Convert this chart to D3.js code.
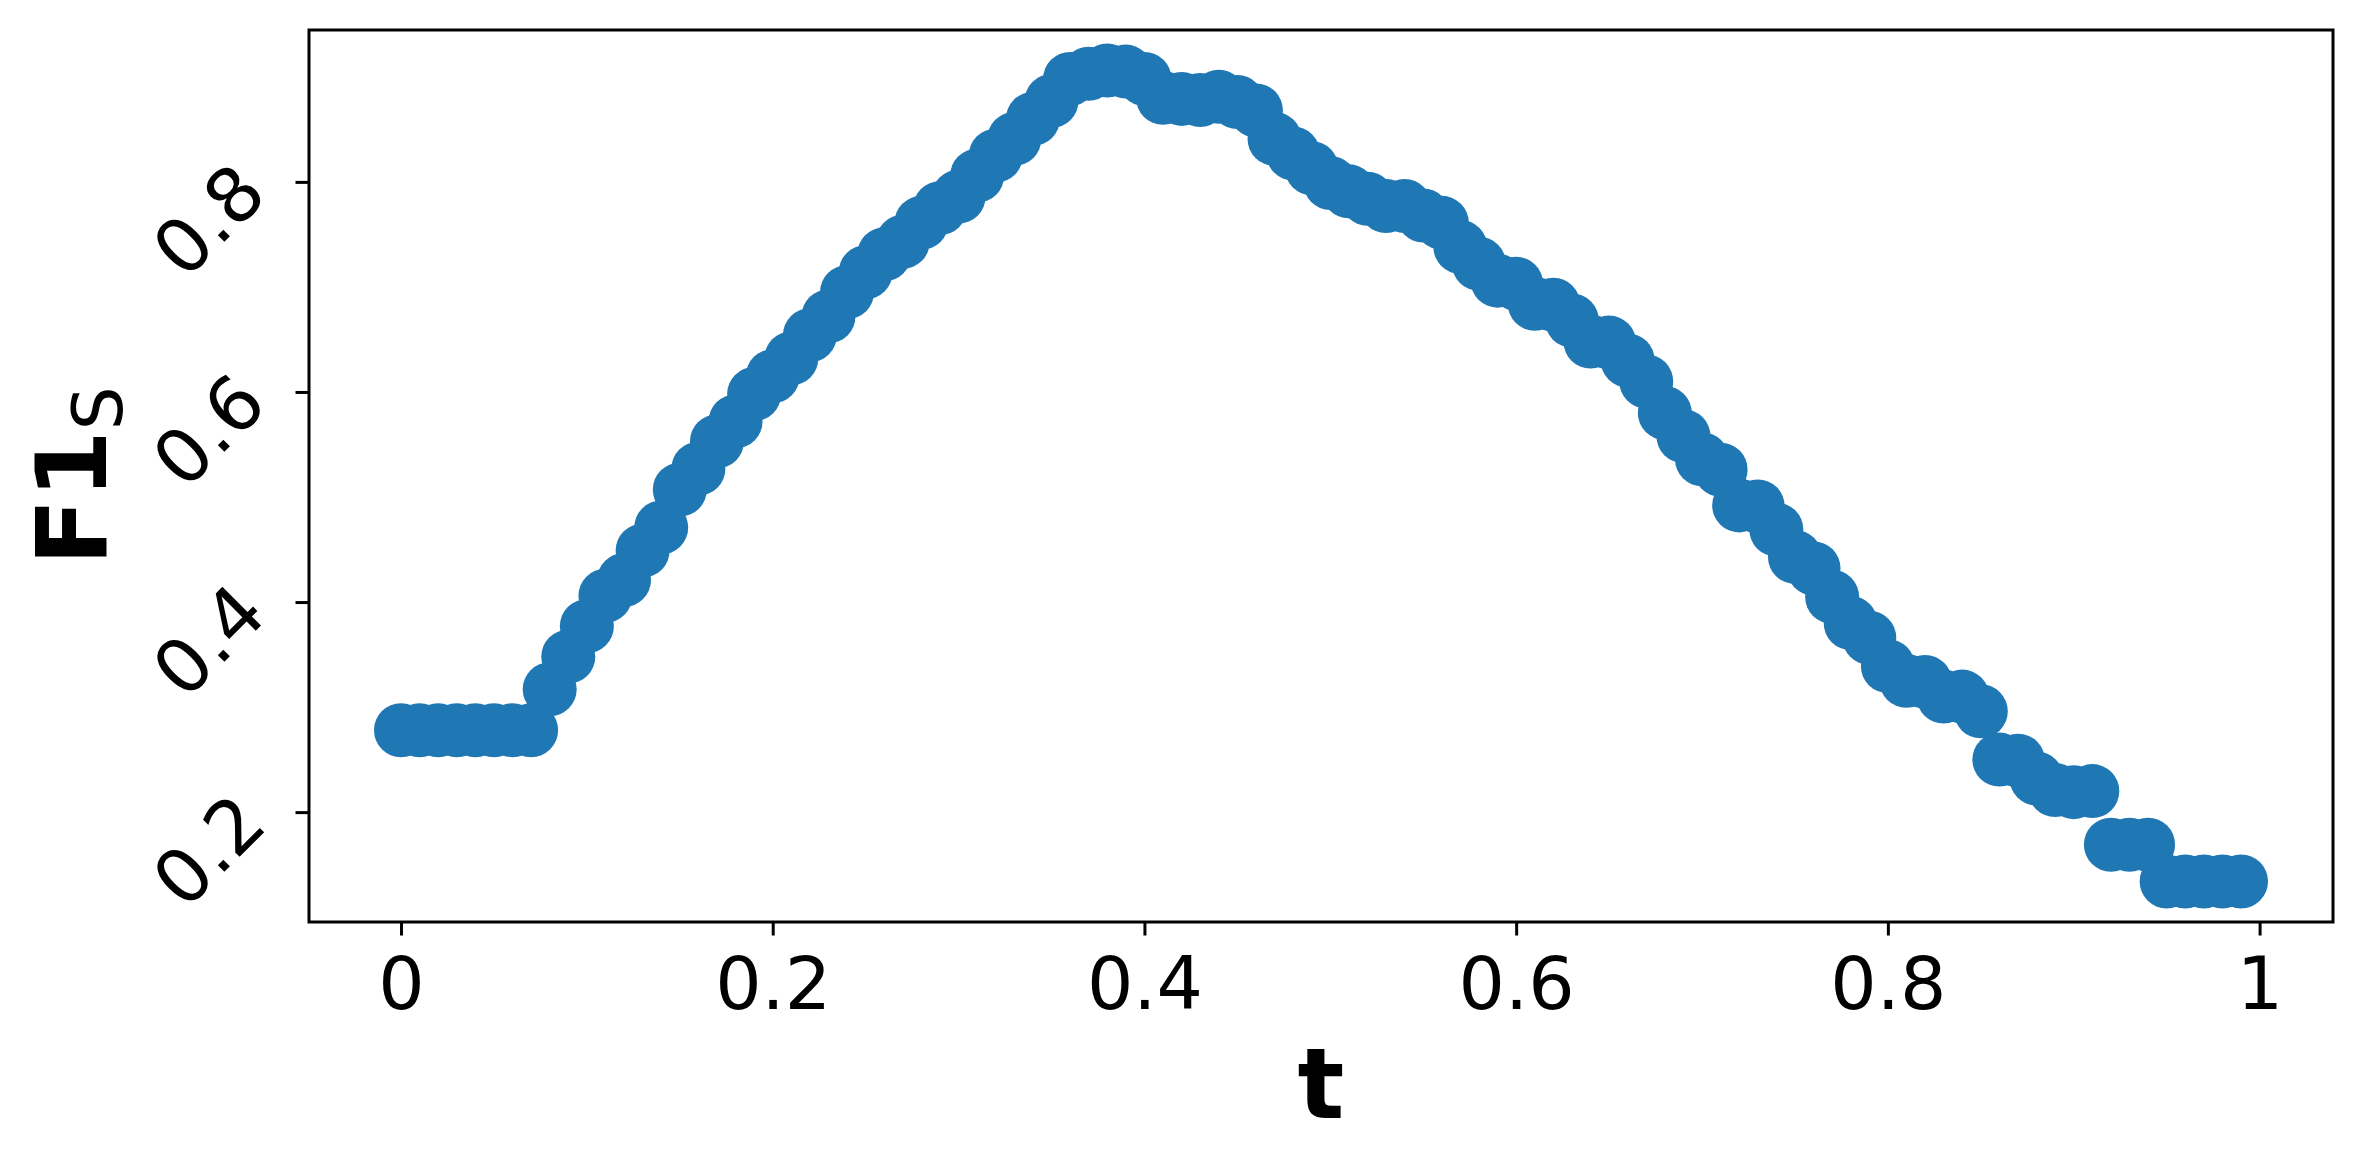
<!DOCTYPE html>
<html>
<head>
<meta charset="utf-8">
<script src="https://cdn.jsdelivr.net/npm/d3@7"></script>
<style>
  body { margin: 0; background: #fff; }
  text { font-family: "DejaVu Sans", sans-serif; }
</style>
</head>
<body>
<div id="dataviz"></div>
<script>
var tValues = [
  0.00, 0.01, 0.02, 0.03, 0.04, 0.05, 0.06, 0.07, 0.08, 0.09,
  0.10, 0.11, 0.12, 0.13, 0.14, 0.15, 0.16, 0.17, 0.18, 0.19,
  0.20, 0.21, 0.22, 0.23, 0.24, 0.25, 0.26, 0.27, 0.28, 0.29,
  0.30, 0.31, 0.32, 0.33, 0.34, 0.35, 0.36, 0.37, 0.38, 0.39,
  0.40, 0.41, 0.42, 0.43, 0.44, 0.45, 0.46, 0.47, 0.48, 0.49,
  0.50, 0.51, 0.52, 0.53, 0.54, 0.55, 0.56, 0.57, 0.58, 0.59,
  0.60, 0.61, 0.62, 0.63, 0.64, 0.65, 0.66, 0.67, 0.68, 0.69,
  0.70, 0.71, 0.72, 0.73, 0.74, 0.75, 0.76, 0.77, 0.78, 0.79,
  0.80, 0.81, 0.82, 0.83, 0.84, 0.85, 0.86, 0.87, 0.88, 0.89,
  0.90, 0.91, 0.92, 0.93, 0.94, 0.95, 0.96, 0.97, 0.98, 0.99
]

var f1Values = [
  0.278, 0.278, 0.278, 0.278, 0.278, 0.278, 0.278, 0.278, 0.317, 0.348,
  0.377, 0.406, 0.421, 0.449, 0.471, 0.507, 0.527, 0.553, 0.572, 0.598,
  0.615, 0.632, 0.654, 0.672, 0.695, 0.714, 0.731, 0.743, 0.761, 0.775,
  0.786, 0.806, 0.825, 0.841, 0.860, 0.877, 0.898, 0.903, 0.906, 0.905,
  0.898, 0.880, 0.879, 0.878, 0.881, 0.876, 0.868, 0.841, 0.827, 0.813,
  0.799, 0.791, 0.784, 0.777, 0.777, 0.768, 0.761, 0.738, 0.722, 0.706,
  0.703, 0.684, 0.683, 0.668, 0.648, 0.647, 0.630, 0.610, 0.580, 0.558,
  0.536, 0.526, 0.492, 0.491, 0.469, 0.443, 0.432, 0.405, 0.380, 0.366,
  0.339, 0.325, 0.324, 0.310, 0.310, 0.296, 0.250, 0.249, 0.232, 0.221,
  0.219, 0.220, 0.169, 0.169, 0.169, 0.134, 0.134, 0.134, 0.134, 0.134
]

var xTicks = [0, 0.2, 0.4, 0.6, 0.8, 1]
var xTickLabels = ["0", "0.2", "0.4", "0.6", "0.8", "1"]
var yTicks = [0.2, 0.4, 0.6, 0.8]
var yTickLabels = ["0.2", "0.4", "0.6", "0.8"]

var width = 2363
var height = 1169
var plotLeft = 309, plotRight = 2333, plotTop = 30, plotBottom = 922

var points = tValues.map(function(t, i) { return { t: t, f1: f1Values[i] } })

// matplotlib style 5% padding around the data
function padded(values) {
  var lo = d3.min(values), hi = d3.max(values)
  var pad = (hi - lo) * 0.05
  return [lo - pad, hi + pad]
}

var x = d3.scaleLinear()
  .domain(padded(tValues))
  .range([plotLeft, plotRight])

var y = d3.scaleLinear()
  .domain(padded(f1Values))
  .range([plotBottom, plotTop])

var svg = d3.select("#dataviz")
  .append("svg")
    .attr("width", width)
    .attr("height", height)

svg.append("rect")
    .attr("width", width)
    .attr("height", height)
    .attr("fill", "#fff")

// points
svg.append("g")
  .selectAll("circle")
  .data(points)
  .enter()
  .append("circle")
    .attr("cx", function(d) { return x(d.t) })
    .attr("cy", function(d) { return y(d.f1) })
    .attr("r", 27)
    .style("fill", "#1f77b4")

// x axis
var xAxis = svg.append("g")
    .attr("transform", "translate(0," + plotBottom + ")")
    .call(d3.axisBottom(x)
      .tickValues(xTicks)
      .tickFormat(function(d, i) { return xTickLabels[i] })
      .tickSize(13.5)
      .tickSizeOuter(0))

xAxis.select(".domain").remove()
xAxis.selectAll(".tick line")
    .attr("stroke", "#000")
    .attr("stroke-width", 3)
xAxis.selectAll(".tick text")
    .attr("fill", "#000")
    .style("font-size", "73px")
    .attr("dy", null)
    .attr("y", 87)

// y axis, labels tilted 45 degrees
var yAxis = svg.append("g")
    .attr("transform", "translate(" + plotLeft + ",0)")
    .call(d3.axisLeft(y)
      .tickValues(yTicks)
      .tickFormat(function(d, i) { return yTickLabels[i] })
      .tickSize(13.5)
      .tickSizeOuter(0))

yAxis.select(".domain").remove()
yAxis.selectAll(".tick line")
    .attr("stroke", "#000")
    .attr("stroke-width", 3)
yAxis.selectAll(".tick text")
    .attr("fill", "#000")
    .style("font-size", "75px")
    .attr("x", null)
    .attr("dy", null)
    .attr("text-anchor", "end")
    .attr("dominant-baseline", "central")
    .attr("transform", "translate(-58,-4) rotate(-45)")

// frame
svg.append("rect")
    .attr("x", plotLeft)
    .attr("y", plotTop)
    .attr("width", plotRight - plotLeft)
    .attr("height", plotBottom - plotTop)
    .attr("fill", "none")
    .attr("stroke", "#000")
    .attr("stroke-width", 3)

// axis titles
svg.append("text")
    .attr("x", (plotLeft + plotRight) / 2)
    .attr("y", 1118)
    .attr("text-anchor", "middle")
    .style("font-size", "98px")
    .style("font-weight", "bold")
    .text("t")

var yTitle = svg.append("text")
    .attr("transform", "translate(106," + (plotTop + plotBottom) / 2 + ") rotate(-90)")
    .attr("text-anchor", "middle")
    .style("font-size", "98px")

yTitle.append("tspan")
    .style("font-weight", "bold")
    .text("F1")
yTitle.append("tspan")
    .attr("dy", 16)
    .style("font-size", "69px")
    .text("S")
</script>
</body>
</html>
